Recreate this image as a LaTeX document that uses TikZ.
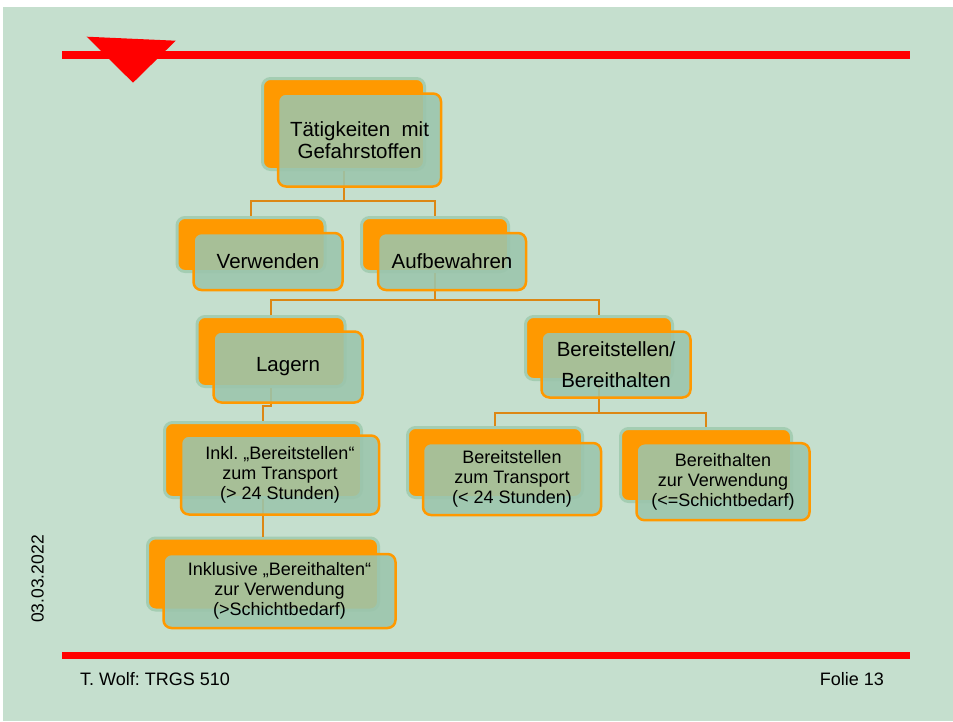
\documentclass[tikz,border=0pt]{standalone}
\usepackage{fontspec}
\setmainfont{Liberation Sans}
\usetikzlibrary{positioning}
\frenchspacing

\definecolor{hgrund}{RGB}{197,223,206}
\definecolor{orangeh}{RGB}{255,153,0}
\definecolor{randgruen}{RGB}{164,205,178}
\definecolor{boxgruen}{RGB}{155,197,172}
\definecolor{linie}{RGB}{220,135,20}

\begin{document}
\begin{tikzpicture}[x=1pt,y=-1pt]
	\tikzset{
		hinten/.style={draw=randgruen, line width=3pt, fill=orangeh, rounded corners=8pt},
		vorne/.style={draw=orangeh, line width=2.5pt, fill=boxgruen, fill opacity=.88, text opacity=1,
			rounded corners=8pt, align=center, font=\fontsize{20.5}{22}\selectfont},
		klein/.style={font=\fontsize{18}{20}\selectfont},
		verb/.style={draw=linie, line width=2pt},
		fuss/.style={font=\fontsize{18}{20}\selectfont, inner sep=0pt}
	}
	\useasboundingbox (0,0) rectangle (953,721);
	\fill[white] (0,0) rectangle (953,721);
	\fill[hgrund] (3,7) rectangle (953,721);
	% rote Balken
	\fill[red] (62,51) rectangle (910,59);
	\fill[red] (62,652) rectangle (910,659);
	\fill[red] (86.7,36.7) -- (175.7,40.7) -- (133,82.7) -- cycle;

	% hintere Kaesten
	\node[hinten, minimum width=162pt, minimum height=91pt] (tatH) at (343.5,124) {};
	\node[hinten, minimum width=148pt, minimum height=54pt] (verwH) at (251,244.5) {};
	\node[hinten, minimum width=147pt, minimum height=54pt] (aufbH) at (435,244.5) {};
	\node[hinten, minimum width=148pt, minimum height=70pt] (lagH) at (271,351.5) {};
	\node[hinten, minimum width=147pt, minimum height=63pt] (bbH) at (599,348) {};
	\node[hinten, minimum width=175pt, minimum height=70pt] (bztH) at (495,462.5) {};
	\node[hinten, minimum width=171pt, minimum height=73pt] (bzvH) at (706,465) {};
	\node[hinten, minimum width=197pt, minimum height=75pt] (inklH) at (263,460) {};
	\node[hinten, minimum width=231pt, minimum height=72pt] (inklusH) at (263,574) {};

	% Verbinder
	\draw[verb] (tatH.south) -- (tatH.south |- 0,201) coordinate (k1);
	\draw[verb] (verwH.north) |- (k1) -| (aufbH.north);
	\draw[verb] (aufbH.south) -- (aufbH.south |- 0,300) coordinate (k2);
	\draw[verb] (lagH.north) |- (k2) -| (bbH.north);
	\draw[verb] (bbH.south) -- (bbH.south |- 0,413) coordinate (k3);
	\draw[verb] (bztH.north) |- (k3) -| (bzvH.north);
	\draw[verb] (lagH.south) -- (lagH.south |- 0,406) -| (inklH.north);
	\draw[verb] (inklH.south) -- (inklusH.north);

	% vordere Kaesten
	\node[vorne, minimum width=163pt, minimum height=93pt] (tat) at ([shift={(16,16)}]tatH) {Tätigkeiten\ \ mit\\Gefahrstoffen};
	\node[vorne, minimum width=149pt, minimum height=57pt] (verw) at ([shift={(17,17)}]verwH) {Verwenden};
	\node[vorne, minimum width=148pt, minimum height=57pt] (aufb) at ([shift={(17,17)}]aufbH) {Aufbewahren};
	\node[vorne, minimum width=149pt, minimum height=71pt] (lag) at ([shift={(17,15.5)}]lagH) {Lagern};
	\node[vorne, minimum width=149pt, minimum height=66pt, font=\fontsize{20.5}{31}\selectfont] (bb) at ([shift={(17,16.5)}]bbH) {Bereitstellen/\\Bereithalten};
	\node[vorne, klein, minimum width=178pt, minimum height=72pt] (bzt) at ([shift={(17,16.5)}]bztH) {Bereitstellen\\zum Transport\\(< 24 Stunden)};
	\node[vorne, klein, minimum width=173pt, minimum height=77pt] (bzv) at ([shift={(17,16.7)}]bzvH) {Bereithalten\\zur Verwendung\\(<=Schichtbedarf)};
	\node[vorne, klein, minimum width=198pt, minimum height=79pt] (inkl) at ([shift={(17,15)}]inklH) {Inkl. „Bereitstellen“\\zum Transport\\(> 24 Stunden)};
	\node[vorne, klein, minimum width=232pt, minimum height=74pt] (inklus) at ([shift={(16.5,17)}]inklusH) {Inklusive „Bereithalten“\\zur Verwendung\\(>Schichtbedarf)};

	% Fusszeile
	\node[fuss, anchor=west] (autor) at (80,679) {T. Wolf: TRGS 510};
	\node[fuss, anchor=east] (folie) at (884,679) {Folie 13};
	\node[fuss, rotate=90, font=\fontsize{17.5}{19}\selectfont] (datum) at (37.5,579) {03.03.2022};
\end{tikzpicture}
\end{document}
